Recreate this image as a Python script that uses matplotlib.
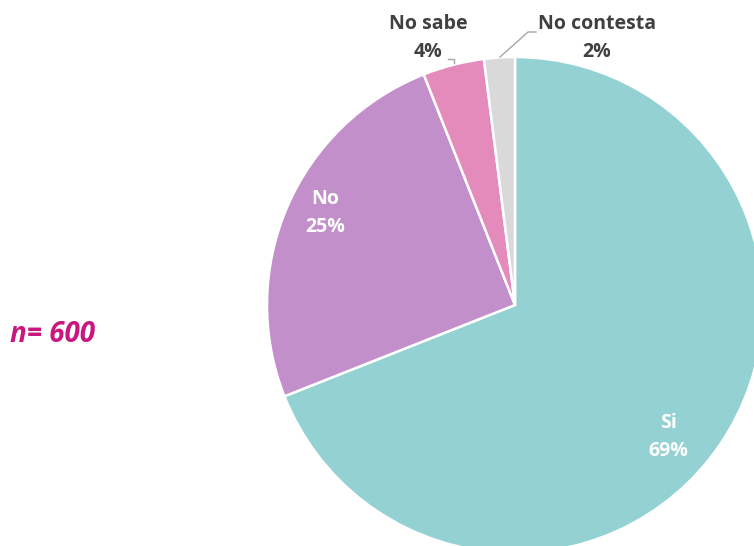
import matplotlib
matplotlib.use("Agg")
import matplotlib.pyplot as plt

labels = ["Si", "No", "No sabe", "No contesta"]
values = [69, 25, 4, 2]
colors = ["#93D1D3", "#C38FCB", "#E58BBB", "#D9D9D9"]

W, H = 754, 546
fig = plt.figure(figsize=(W / 100, H / 100), dpi=100)
ax = fig.add_axes([0, 0, 1, 1])

cx, cy, r = 515, H - 305, 248
wedges, _ = ax.pie(values, colors=colors, startangle=90, counterclock=False,
                   center=(cx, cy), radius=r, frame=True,
                   wedgeprops=dict(edgecolor="white", linewidth=1.8))
ax.set_xlim(0, W)
ax.set_ylim(0, H)
ax.set_aspect("equal")
ax.axis("off")

font = "Open Sans"
fs = 14
ls = 1.55
pct = [f"{v}%" for v in values]

# labels inside the big slices
ax.text(668, H - 437, f"{labels[0]}\n{pct[0]}", color="white", fontsize=fs,
        fontweight="bold", family=font, ha="center", va="center", linespacing=ls)
ax.text(325, H - 213, f"{labels[1]}\n{pct[1]}", color="white", fontsize=fs,
        fontweight="bold", family=font, ha="center", va="center", linespacing=ls)

# outside labels for the small slices
ax.text(428, H - 38, f"{labels[2]}\n{pct[2]}", color="#404040", fontsize=fs,
        fontweight="bold", family=font, ha="center", va="center", linespacing=ls)
ax.text(597, H - 38, f"{labels[3]}\n{pct[3]}", color="#404040", fontsize=fs,
        fontweight="bold", family=font, ha="center", va="center", linespacing=ls)

# leader lines
ax.plot([448, 454, 454], [H - 59, H - 59, H - 63], color="#A6A6A6", lw=1)
ax.plot([500, 528, 536], [H - 57, H - 32, H - 32], color="#A6A6A6", lw=1)

ax.text(10, H - 334, "n= 600", color="#C8177F", fontsize=20, fontweight="bold",
        style="italic", family=font, ha="left", va="center")

fig.savefig("out.png", dpi=100)
